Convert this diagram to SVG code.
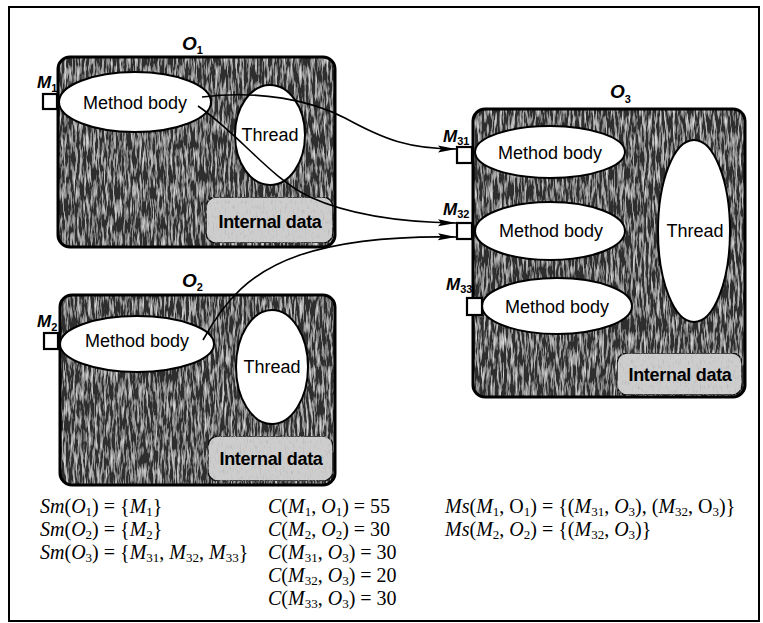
<svg xmlns="http://www.w3.org/2000/svg" width="763" height="623" viewBox="0 0 763 623">
<defs>
<style>
.frame{fill:none;stroke:#000;stroke-width:2}
.obox{fill:#2e2e2e;filter:url(#noiseDark)}
.oedge{fill:none;stroke:#000;stroke-width:3}
.idata{fill:#cdcdcd;stroke:#111;stroke-width:1.5;filter:url(#noiseLight)}
.ell{fill:#fff;stroke:#000;stroke-width:2}
.port{fill:#fff;stroke:#000;stroke-width:2.2}
.t{font-family:"Liberation Sans",Arial,sans-serif;font-size:18px;fill:#000;text-anchor:middle}
.tb{font-family:"Liberation Sans",Arial,sans-serif;font-size:18px;font-weight:bold;fill:#000;text-anchor:middle;letter-spacing:-0.3px}
.lab{font-family:"Liberation Sans",Arial,sans-serif;font-size:17px;font-weight:bold;font-style:italic;fill:#000}
.lab .sub{font-size:11px;font-style:normal}
.conn{fill:none;stroke:#000;stroke-width:1.6}
.f{font-family:"Liberation Serif","Times New Roman",serif;font-size:20px;fill:#000}
.f .i{font-style:italic}
.f .s{font-size:13px}
</style>
<filter id="noiseDark" x="0" y="0" width="100%" height="100%">
<feTurbulence type="fractalNoise" baseFrequency="0.45 0.06" numOctaves="3" seed="7" result="t"/>
<feColorMatrix in="t" type="matrix" values="0 0 0 0 0.7  0 0 0 0 0.7  0 0 0 0 0.7  2.6 0 0 0 -1.15" result="sp"/>
<feComposite in="sp" in2="SourceGraphic" operator="in" result="spc"/>
<feMerge><feMergeNode in="SourceGraphic"/><feMergeNode in="spc"/></feMerge>
</filter>
<filter id="noiseLight" x="0" y="0" width="100%" height="100%">
<feTurbulence type="fractalNoise" baseFrequency="0.6 0.2" numOctaves="2" seed="3" result="t"/>
<feColorMatrix in="t" type="matrix" values="0 0 0 0 0.45  0 0 0 0 0.45  0 0 0 0 0.45  2.4 0 0 0 -1.3" result="sp"/>
<feComposite in="sp" in2="SourceGraphic" operator="in" result="spc"/>
<feMerge><feMergeNode in="SourceGraphic"/><feMergeNode in="spc"/></feMerge>
</filter>
<marker id="arr" markerUnits="userSpaceOnUse" markerWidth="20" markerHeight="10" refX="18" refY="5" orient="auto">
<path d="M0,1.5 L18,5 L0,8.5 L3,5 z" fill="#000"/>
</marker>
</defs>

<rect class="frame" x="9" y="7" width="750" height="614"/>

<g id="O1">
<rect class="obox" x="58" y="57" width="277" height="190" rx="12"/>
<rect class="oedge" x="58" y="57" width="277" height="190" rx="12"/>
<rect class="idata" x="206" y="197" width="127" height="46" rx="10"/>
<text class="tb" x="270" y="228">Internal data</text>
<ellipse class="ell" cx="135" cy="102" rx="76" ry="30"/>
<text class="t" x="135" y="109">Method body</text>
<ellipse class="ell" cx="270" cy="135" rx="35" ry="50"/>
<text class="t" x="270" y="141">Thread</text>
<rect class="port" x="43" y="94" width="14" height="15"/>
<text class="lab" x="37" y="88">M<tspan class="sub" dy="4">1</tspan></text>
<text class="lab" x="182" y="50" style="font-size:19px">O<tspan class="sub" dy="4">1</tspan></text>
</g>

<g id="O2">
<rect class="obox" x="60" y="295" width="275" height="190" rx="12"/>
<rect class="oedge" x="60" y="295" width="275" height="190" rx="12"/>
<rect class="idata" x="208" y="436" width="125" height="45" rx="10"/>
<text class="tb" x="271" y="465">Internal data</text>
<ellipse class="ell" cx="137" cy="344" rx="77" ry="28"/>
<text class="t" x="137" y="347">Method body</text>
<ellipse class="ell" cx="272" cy="367" rx="36" ry="57"/>
<text class="t" x="272" y="373">Thread</text>
<rect class="port" x="44" y="333" width="14" height="16"/>
<text class="lab" x="37" y="327">M<tspan class="sub" dy="4">2</tspan></text>
<text class="lab" x="182" y="287" style="font-size:19px">O<tspan class="sub" dy="4">2</tspan></text>
</g>

<g id="O3">
<rect class="obox" x="473" y="109" width="272" height="288" rx="12"/>
<rect class="oedge" x="473" y="109" width="272" height="288" rx="12"/>
<rect class="idata" x="617" y="353" width="125" height="42" rx="10"/>
<text class="tb" x="680" y="381">Internal data</text>
<ellipse class="ell" cx="550" cy="152" rx="75" ry="26"/>
<text class="t" x="550" y="159">Method body</text>
<ellipse class="ell" cx="550" cy="231" rx="75" ry="29"/>
<text class="t" x="551" y="237">Method body</text>
<ellipse class="ell" cx="557" cy="306" rx="75" ry="28"/>
<text class="t" x="557" y="313">Method body</text>
<ellipse class="ell" cx="694" cy="231" rx="36" ry="91"/>
<text class="t" x="695" y="237">Thread</text>
<rect class="port" x="457" y="147" width="15" height="16"/>
<rect class="port" x="457" y="223" width="15" height="16"/>
<rect class="port" x="467" y="298" width="15" height="17"/>
<text class="lab" x="443" y="142">M<tspan class="sub" dy="3">31</tspan></text>
<text class="lab" x="443" y="215">M<tspan class="sub" dy="3">32</tspan></text>
<text class="lab" x="446" y="290">M<tspan class="sub" dy="3">33</tspan></text>
<text class="lab" x="610" y="98" style="font-size:19px">O<tspan class="sub" dy="5">3</tspan></text>
</g>

<g id="connectors">
<path class="conn" marker-end="url(#arr)" d="M202,97 C260,90 310,100 345,118 C385,140 410,149 456,149"/>
<path class="conn" marker-end="url(#arr)" d="M198,106 C240,135 270,178 310,197 C345,213 390,222 456,223"/>
<path class="conn" marker-end="url(#arr)" d="M203,340 C225,300 250,272 300,255 C345,240 400,236 456,237"/>
</g>

<g id="formulas">
<text class="f" x="40" y="513"><tspan class="i">Sm</tspan>(<tspan class="i">O</tspan><tspan class="s" dy="3">1</tspan><tspan dy="-3">) = {</tspan><tspan class="i">M</tspan><tspan class="s" dy="3">1</tspan><tspan dy="-3">}</tspan></text>
<text class="f" x="40" y="536"><tspan class="i">Sm</tspan>(<tspan class="i">O</tspan><tspan class="s" dy="3">2</tspan><tspan dy="-3">) = {</tspan><tspan class="i">M</tspan><tspan class="s" dy="3">2</tspan><tspan dy="-3">}</tspan></text>
<text class="f" x="40" y="559"><tspan class="i">Sm</tspan>(<tspan class="i">O</tspan><tspan class="s" dy="3">3</tspan><tspan dy="-3">) = {</tspan><tspan class="i">M</tspan><tspan class="s" dy="3">31</tspan><tspan dy="-3">, </tspan><tspan class="i">M</tspan><tspan class="s" dy="3">32</tspan><tspan dy="-3">, </tspan><tspan class="i">M</tspan><tspan class="s" dy="3">33</tspan><tspan dy="-3">}</tspan></text>

<text class="f" x="268" y="513"><tspan class="i">C</tspan>(<tspan class="i">M</tspan><tspan class="s" dy="3">1</tspan><tspan dy="-3">, </tspan><tspan class="i">O</tspan><tspan class="s" dy="3">1</tspan><tspan dy="-3">) = 55</tspan></text>
<text class="f" x="268" y="536"><tspan class="i">C</tspan>(<tspan class="i">M</tspan><tspan class="s" dy="3">2</tspan><tspan dy="-3">, </tspan><tspan class="i">O</tspan><tspan class="s" dy="3">2</tspan><tspan dy="-3">) = 30</tspan></text>
<text class="f" x="268" y="559"><tspan class="i">C</tspan>(<tspan class="i">M</tspan><tspan class="s" dy="3">31</tspan><tspan dy="-3">, </tspan><tspan class="i">O</tspan><tspan class="s" dy="3">3</tspan><tspan dy="-3">) = 30</tspan></text>
<text class="f" x="268" y="582"><tspan class="i">C</tspan>(<tspan class="i">M</tspan><tspan class="s" dy="3">32</tspan><tspan dy="-3">, </tspan><tspan class="i">O</tspan><tspan class="s" dy="3">3</tspan><tspan dy="-3">) = 20</tspan></text>
<text class="f" x="268" y="605"><tspan class="i">C</tspan>(<tspan class="i">M</tspan><tspan class="s" dy="3">33</tspan><tspan dy="-3">, </tspan><tspan class="i">O</tspan><tspan class="s" dy="3">3</tspan><tspan dy="-3">) = 30</tspan></text>

<text class="f" x="445" y="513"><tspan class="i">Ms</tspan>(<tspan class="i">M</tspan><tspan class="s" dy="3">1</tspan><tspan dy="-3">, O</tspan><tspan class="s" dy="3">1</tspan><tspan dy="-3">) = {(</tspan><tspan class="i">M</tspan><tspan class="s" dy="3">31</tspan><tspan dy="-3">, </tspan><tspan class="i">O</tspan><tspan class="s" dy="3">3</tspan><tspan dy="-3">), (</tspan><tspan class="i">M</tspan><tspan class="s" dy="3">32</tspan><tspan dy="-3">, O</tspan><tspan class="s" dy="3">3</tspan><tspan dy="-3">)}</tspan></text>
<text class="f" x="445" y="536"><tspan class="i">Ms</tspan>(<tspan class="i">M</tspan><tspan class="s" dy="3">2</tspan><tspan dy="-3">, </tspan><tspan class="i">O</tspan><tspan class="s" dy="3">2</tspan><tspan dy="-3">) = {(</tspan><tspan class="i">M</tspan><tspan class="s" dy="3">32</tspan><tspan dy="-3">, </tspan><tspan class="i">O</tspan><tspan class="s" dy="3">3</tspan><tspan dy="-3">)}</tspan></text>
</g>
</svg>
